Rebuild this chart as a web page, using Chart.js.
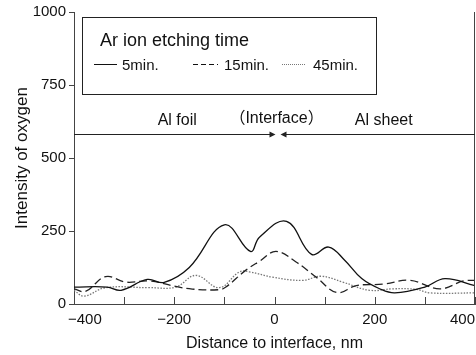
<!DOCTYPE html>
<html>
<head>
<meta charset="utf-8">
<script src="https://cdn.jsdelivr.net/npm/chart.js@4"></script>
<style>
  html, body { margin: 0; padding: 0; background: #fff; }
  #wrap { width: 476px; height: 355px; }
</style>
</head>
<body>
<div id="wrap"><canvas id="oxygenChart"></canvas></div>
<script>
// distance to interface (nm) and oxygen intensity per etching time
const x5 = [-400, -334, -306, -254, -220, -170, -100, -48, -30, 24, 74, 108, 140, 174, 210, 240, 300, 340, 400];
const y5 = [58, 58, 47, 84, 74, 125, 271, 180, 229, 283, 170, 195, 150, 87, 52, 38, 58, 87, 63];

const x15 = [-400, -377, -337, -297, -250, -197, -164, -110, -97, -57, -30, 3, 43, 83, 125, 163, 217, 270, 330, 377, 400];
const y15 = [52, 43, 94, 75, 79, 60, 51, 49, 58, 116, 146, 180, 144, 92, 39, 63, 68, 81, 52, 79, 81];

const x45 = [-400, -380, -337, -250, -197, -157, -110, -70, -50, -4, 56, 93, 136, 190, 236, 283, 310, 400];
const y45 = [47, 27, 56, 56, 58, 98, 56, 110, 110, 92, 81, 95, 75, 47, 52, 50, 38, 38];

const seriesNames = ["5min.", "15min.", "45min."];
const xTicks = [-400, -300, -200, -100, 0, 100, 200, 300, 400];
const yTicks = [0, 250, 500, 750, 1000];

function pts(xs, ys) {
  return xs.map((x, i) => ({ x: x, y: ys[i] }));
}

const font = "'Liberation Sans', Arial, sans-serif";
const minus = v => String(v).replace("-", "\u2212");

// legend box, interface arrows, inner x ticks, right frame line
const extras = {
  id: "extras",
  afterDraw(chart) {
    const ctx = chart.ctx;
    const xs = chart.scales.x, ys = chart.scales.y;
    const area = chart.chartArea;
    ctx.save();

    // frame on the right
    ctx.strokeStyle = "#444";
    ctx.lineWidth = 1;
    ctx.beginPath();
    ctx.moveTo(area.right - 0.5, area.top);
    ctx.lineTo(area.right - 0.5, area.bottom);
    ctx.stroke();

    // x ticks pointing inward
    xTicks.forEach(v => {
      const px = Math.round(xs.getPixelForValue(v)) + 0.5;
      ctx.beginPath();
      ctx.moveTo(px, area.bottom);
      ctx.lineTo(px, area.bottom - 7);
      ctx.stroke();
    });

    // first x label sits a little inside the frame
    ctx.fillStyle = "#111";
    ctx.font = "15px " + font;
    ctx.textAlign = "left";
    ctx.textBaseline = "middle";
    ctx.fillText(minus(xTicks[0]), xs.getPixelForValue(xTicks[0]) - 6, area.bottom + 16);

    // interface line with arrows
    const ly = Math.round(ys.getPixelForValue(582)) + 0.5;
    const tipL = xs.getPixelForValue(2);
    const tipR = xs.getPixelForValue(12);
    ctx.strokeStyle = "#222";
    ctx.fillStyle = "#222";
    ctx.beginPath();
    ctx.moveTo(area.left, ly);
    ctx.lineTo(tipL - 5, ly);
    ctx.moveTo(tipR + 5, ly);
    ctx.lineTo(area.right, ly);
    ctx.stroke();
    ctx.beginPath();
    ctx.moveTo(tipL, ly);
    ctx.lineTo(tipL - 6, ly - 3);
    ctx.lineTo(tipL - 6, ly + 3);
    ctx.closePath();
    ctx.fill();
    ctx.beginPath();
    ctx.moveTo(tipR, ly);
    ctx.lineTo(tipR + 6, ly - 3);
    ctx.lineTo(tipR + 6, ly + 3);
    ctx.closePath();
    ctx.fill();

    ctx.fillStyle = "#111";
    ctx.font = "16px " + font + ", 'Noto Sans CJK JP'";
    ctx.textAlign = "center";
    ctx.fillText("Al foil", xs.getPixelForValue(-194), ly - 14);
    ctx.fillText("（Interface）", xs.getPixelForValue(4), ly - 16);
    ctx.fillText("Al sheet", xs.getPixelForValue(218), ly - 14);

    // legend box
    ctx.fillStyle = "#fff";
    ctx.fillRect(82, 17, 294, 77);
    ctx.strokeStyle = "#222";
    ctx.strokeRect(82.5, 17.5, 294, 77);
    ctx.fillStyle = "#111";
    ctx.textAlign = "left";
    ctx.font = "18px " + font;
    ctx.fillText("Ar ion etching time", 100, 41);

    const items = [
      { x1: 94, x2: 117, tx: 122, dash: [], color: "#111" },
      { x1: 193, x2: 218, tx: 224, dash: [5, 3], color: "#111" },
      { x1: 282, x2: 305, tx: 313, dash: [1, 1], color: "#777" }
    ];
    ctx.font = "15px " + font;
    items.forEach((it, i) => {
      ctx.strokeStyle = it.color;
      ctx.setLineDash(it.dash);
      ctx.beginPath();
      ctx.moveTo(it.x1, 64.5);
      ctx.lineTo(it.x2, 64.5);
      ctx.stroke();
      ctx.setLineDash([]);
      ctx.fillStyle = "#111";
      ctx.fillText(seriesNames[i], it.tx, 66);
    });
    ctx.restore();
  }
};

new Chart(document.getElementById("oxygenChart"), {
  type: "line",
  data: {
    datasets: [
      { label: seriesNames[0], data: pts(x5, y5), borderColor: "#111", borderWidth: 1.3 },
      { label: seriesNames[1], data: pts(x15, y15), borderColor: "#222", borderWidth: 1.3, borderDash: [8, 4] },
      { label: seriesNames[2], data: pts(x45, y45), borderColor: "#777", borderWidth: 1.3, borderDash: [1.5, 1.5] }
    ]
  },
  options: {
    responsive: true,
    maintainAspectRatio: false,
    animation: false,
    layout: { padding: { top: 10, right: 1, left: 0, bottom: 0 } },
    elements: {
      point: { radius: 0 },
      line: { tension: 0.4, fill: false }
    },
    plugins: {
      legend: { display: false },
      tooltip: { enabled: false }
    },
    scales: {
      x: {
        type: "linear",
        min: -400,
        max: 400,
        afterBuildTicks: s => { s.ticks = xTicks.map(v => ({ value: v })); },
        afterFit: s => { s.height = 51; s.paddingLeft = 0; s.paddingRight = 0; },
        grid: { display: false, drawTicks: false },
        border: { color: "#444", width: 1 },
        ticks: {
          color: "#111",
          font: { family: font, size: 15 },
          padding: 7,
          align: "inner",
          maxRotation: 0,
          autoSkip: false,
          // -400 is drawn by the plugin
          callback: v => (v % 200 === 0 && v !== xTicks[0] ? minus(v) : "")
        },
        title: {
          display: true,
          text: "Distance to interface, nm",
          color: "#111",
          font: { family: font, size: 16 },
          padding: { top: 0, bottom: 2 }
        }
      },
      y: {
        min: 0,
        max: 1000,
        afterBuildTicks: s => { s.ticks = yTicks.map(v => ({ value: v })); },
        afterFit: s => { s.width = 74; },
        grid: { drawOnChartArea: false, drawTicks: true, tickLength: 5, color: "#444" },
        border: { color: "#444", width: 1 },
        ticks: {
          color: "#111",
          font: { family: font, size: 15 },
          padding: 3,
          callback: v => String(v)
        },
        title: {
          display: true,
          text: "Intensity of oxygen",
          color: "#111",
          font: { family: font, size: 17 },
          padding: { top: 12, bottom: 0 }
        }
      }
    }
  },
  plugins: [extras]
});
</script>
</body>
</html>
